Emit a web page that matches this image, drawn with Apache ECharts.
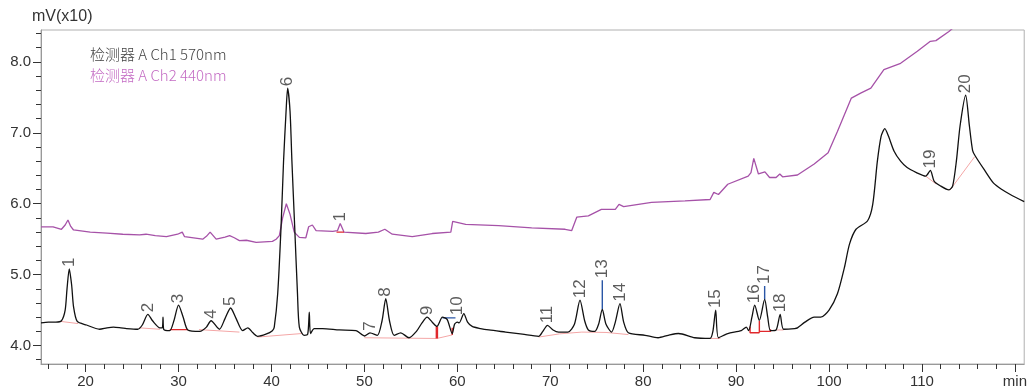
<!DOCTYPE html>
<html><head><meta charset="utf-8">
<script src="https://cdn.jsdelivr.net/npm/echarts@6/dist/echarts.min.js"></script>
<style>html,body{margin:0;padding:0;background:#fff}#c{width:1030px;height:392px}</style>
</head><body><div id="c"></div>
<script>
// ---- data (time in min, signal in mV x10) ----
const ch1Name = '检测器 A Ch1 570nm';
const ch2Name = '检测器 A Ch2 440nm';
const ch1 = [
[15.2,4.32],[16.0,4.33],[16.8,4.33],[17.4,4.35],[17.8,4.5],[18.0,4.8],[18.24,5.08],[18.5,4.85],[18.7,4.55],[19.1,4.34],
[20.1,4.29],[21.5,4.23],[22.3,4.25],[23.0,4.26],[23.8,4.25],[24.4,4.24],[25.6,4.23],[26.1,4.29],[26.7,4.44],[27.2,4.35],
[28.0,4.25],[28.25,4.25],[28.33,4.40],[28.4,4.23],[29.05,4.21],[29.5,4.35],[30.0,4.57],[30.5,4.40],[31.0,4.22],[32.3,4.20],
[33.0,4.26],[33.5,4.35],[34.4,4.23],[35.0,4.38],[35.6,4.53],[36.2,4.38],[36.9,4.21],[37.45,4.25],[38.0,4.18],[38.5,4.13],
[39.4,4.16],[40.1,4.21],[40.3,4.26],[40.67,4.73],[41.03,5.67],[41.3,6.6],[41.57,7.3],[41.74,7.63],[42.0,7.3],[42.2,6.6],
[42.5,5.67],[42.8,4.73],[43.0,4.26],[43.5,4.145],[43.9,4.16],[44.07,4.47],[44.2,4.17],[44.6,4.24],[45.5,4.24],[47.3,4.22],
[49.1,4.21],[50.0,4.135],[50.6,4.18],[51.4,4.145],[51.9,4.35],[52.3,4.66],[52.7,4.35],[53.2,4.145],[53.9,4.18],[54.8,4.11],
[55.6,4.20],[56.2,4.32],[56.75,4.40],[57.3,4.33],[57.8,4.27],[58.4,4.40],[58.9,4.37],[59.45,4.17],[59.7,4.30],[60.0,4.33],
[60.2,4.32],[60.7,4.45],[61.1,4.33],[61.6,4.27],[62.5,4.24],[63.4,4.22],[65.2,4.19],[67.0,4.16],[68.75,4.13],[69.2,4.20],
[69.7,4.285],[70.3,4.22],[70.9,4.19],[71.9,4.19],[72.6,4.30],[73.2,4.64],[73.7,4.35],[74.1,4.22],[74.8,4.20],[75.2,4.30],
[75.6,4.51],[76.0,4.30],[76.6,4.19],[77.0,4.33],[77.5,4.59],[77.9,4.33],[78.4,4.18],[80.2,4.145],[81.6,4.11],[82.7,4.145],
[83.8,4.17],[85.55,4.11],[87.2,4.10],[87.5,4.2],[87.8,4.50],[88.1,4.11],[89.1,4.17],[90.55,4.21],[91.1,4.26],[91.35,4.21],
[91.7,4.40],[92.0,4.57],[92.5,4.355],[93.07,4.65],[93.4,4.40],[93.7,4.21],[94.3,4.22],[94.74,4.44],[95.1,4.23],[96.3,4.24],
[96.6,4.25],[97.4,4.33],[98.4,4.40],[99.1,4.40],[100.0,4.50],[100.9,4.73],[101.65,5.10],[102.2,5.43],[102.9,5.64],[104.15,5.76],
[104.7,5.99],[105.2,6.60],[105.6,6.95],[106.0,7.06],[106.4,6.95],[107.0,6.74],[107.7,6.60],[108.4,6.51],[109.4,6.44],[110.4,6.39],
[110.9,6.47],[111.3,6.32],[112.0,6.25],[112.9,6.195],[113.3,6.25],[113.7,6.60],[114.1,7.10],[114.7,7.53],[115.1,7.10],[115.45,6.75],
[115.75,6.67],[116.7,6.48],[117.7,6.29],[118.6,6.20],[119.5,6.13],[121.0,6.03]
];
const ch2 = [
[15.2,5.675],[16.5,5.675],[17.4,5.64],[17.8,5.70],[18.1,5.77],[18.4,5.68],[18.7,5.63],[20.5,5.60],[22.3,5.585],[24.0,5.57],
[25.8,5.56],[26.5,5.57],[27.5,5.55],[28.7,5.535],[29.9,5.57],[30.4,5.60],[30.65,5.535],[32.6,5.50],[33.0,5.54],[33.4,5.60],
[34.05,5.50],[35.0,5.53],[35.5,5.55],[36.0,5.52],[36.55,5.48],[37.3,5.485],[38.35,5.455],[40.1,5.47],[40.5,5.50],[40.85,5.55],
[41.2,5.80],[41.6,6.00],[42.0,5.85],[42.45,5.60],[43.0,5.525],[43.7,5.52],[44.0,5.675],[44.4,5.70],[44.8,5.62],[46.6,5.61],
[47.1,5.62],[47.4,5.72],[47.8,5.60],[50.15,5.58],[51.5,5.60],[52.2,5.64],[53.0,5.57],[55.15,5.535],[57.3,5.58],[59.3,5.60],
[59.5,5.75],[60.9,5.71],[64.45,5.69],[68.0,5.66],[71.6,5.64],[72.3,5.62],[72.85,5.81],[74.1,5.83],[75.5,5.92],[77.0,5.92],
[77.4,5.99],[77.9,5.96],[80.9,6.02],[84.5,6.04],[87.2,6.06],[87.6,6.16],[88.1,6.13],[89.1,6.275],[91.3,6.39],[91.6,6.44],
[91.9,6.64],[92.4,6.42],[93.1,6.45],[93.6,6.37],[94.3,6.37],[94.7,6.42],[95.0,6.38],[96.6,6.405],[98.4,6.56],[99.9,6.72],
[100.9,7.02],[102.4,7.49],[103.4,7.56],[104.5,7.63],[105.9,7.89],[107.7,7.98],[109.5,8.15],[110.9,8.29],[111.5,8.30],[112.9,8.43],
[114.0,8.55]
];
// peak labels: [time, label-anchor value]
const peakNames1 = ['1','2','3','4','5','6','7','8','9','10','11','12','13','14','15','16','17','18','19','20'];
const peakPos1 = [[18.24,5.08],[26.7,4.44],[30.0,4.57],[33.5,4.35],[35.6,4.53],[41.74,7.63],[50.6,4.18],[52.3,4.66],[56.75,4.40],[60.0,4.40],
[69.7,4.285],[73.2,4.64],[75.6,4.92],[77.5,4.59],[87.8,4.50],[92.0,4.57],[93.07,4.84],[94.74,4.44],[110.9,6.47],[114.7,7.53]];
const peakNames2 = ['1'];
const peakPos2 = [[47.4,5.72]];
// integration baselines
const pinkSegs = [
[[17.35,4.34],[19.2,4.31]],
[[25.75,4.25],[28.0,4.23]],
[[32.2,4.225],[36.55,4.19]],
[[38.5,4.12],[43.3,4.17]],
[[50.0,4.11],[57.8,4.10],[59.45,4.15]],
[[68.75,4.12],[71.0,4.165],[73.4,4.19],[76.0,4.185],[78.4,4.155]],
[[87.2,4.10],[88.3,4.10]],
[[94.4,4.22],[95.1,4.22]],
[[110.4,6.39],[111.5,6.28]],
[[113.0,6.19],[115.65,6.66]]
];
const redSegs = [
[[29.05,4.225],[31.0,4.225]],
[[59.45,4.25],[59.45,4.15]],
[[91.5,4.27],[91.5,4.18],[92.5,4.18]],
[[92.5,4.345],[92.5,4.18]],
[[92.5,4.20],[93.7,4.20],[93.7,4.23]],
[[47.0,5.60],[47.8,5.60]]
];
const redThickSegs = [
[[57.8,4.27],[57.8,4.10]]
];
const blueSegs = [
[[58.4,4.39],[59.8,4.39]],
[[75.6,4.51],[75.6,4.92]],
[[93.07,4.65],[93.07,4.84]]
];
const xMajor = [20,30,40,50,60,70,80,90,100,110,120];
const xMinor = [16,18,22,24,26,28,32,34,36,38,42,44,46,48,52,54,56,58,62,64,66,68,72,74,76,78,82,84,86,88,92,94,96,98,102,104,106,108,112,114,116,118];
const yMajor = [4,5,6,7,8];
const yMinor = [3.8,4.2,4.4,4.6,4.8,5.2,5.4,5.6,5.8,6.2,6.4,6.6,6.8,7.2,7.4,7.6,7.8,8.2,8.4];
const xUnit = 'min';
const yUnit = 'mV(x10)';

// ---- chart ----
const FONT = '"Liberation Sans", Arial, sans-serif';
const X0 = 15.2, X1 = 121, Y0 = 3.74, Y1 = 8.45;
const c1 = '#111111', c2 = '#a652a8';
function segSeries(segs, color, width) {
  return segs.map(s => ({
    type: 'line', data: s, symbol: 'none', silent: true, z: 3,
    lineStyle: { color: color, width: width }
  }));
}
function labelSeries(names, pos) {
  return {
    type: 'scatter', symbolSize: 0, silent: true, z: 5,
    data: pos.map((p, i) => ({ value: p, name: names[i] })),
    label: {
      show: true, position: 'top', distance: 2, rotate: 90,
      align: 'left', verticalAlign: 'middle',
      formatter: p => p.name, fontSize: 17, color: '#333', fontFamily: FONT
    }
  };
}
const chart = echarts.init(document.getElementById('c'), null, { renderer: 'canvas' });
chart.setOption({
  animation: false,
  grid: { left: 41, right: 3, top: 30, bottom: 28, show: true, borderColor: '#b0b0b0', borderWidth: 1 },
  xAxis: [
    { type: 'value', min: X0, max: X1, position: 'bottom',
      axisLine: { show: true, lineStyle: { color: '#999', width: 1 } },
      axisTick: { show: true, customValues: xMajor, length: 8, lineStyle: { color: '#333' } },
      axisLabel: { customValues: xMajor, margin: 10, fontSize: 15, color: '#333', fontFamily: FONT,
        formatter: v => (v === 120 ? xUnit : String(v)) },
      splitLine: { show: false } },
    { type: 'value', min: X0, max: X1, position: 'bottom',
      axisLine: { show: false },
      axisTick: { show: true, customValues: xMinor, length: 5, lineStyle: { color: '#333' } },
      axisLabel: { show: false }, splitLine: { show: false } }
  ],
  yAxis: [
    { type: 'value', min: Y0, max: Y1, position: 'left',
      axisLine: { show: true, lineStyle: { color: '#999', width: 1 } },
      axisTick: { show: true, customValues: yMajor, length: 8, lineStyle: { color: '#333' } },
      axisLabel: { customValues: yMajor, margin: 10, fontSize: 15, color: '#333', fontFamily: FONT,
        formatter: v => v.toFixed(1) },
      splitLine: { show: false } },
    { type: 'value', min: Y0, max: Y1, position: 'left',
      axisLine: { show: false },
      axisTick: { show: true, customValues: yMinor, length: 5, lineStyle: { color: '#333' } },
      axisLabel: { show: false }, splitLine: { show: false } }
  ],
  graphic: [
    { type: 'text', left: 32, top: 9, style: { text: yUnit, fontSize: 16, fill: '#333', fontFamily: FONT } },
    { type: 'text', left: 90, top: 47, style: { text: ch1Name, fontSize: 15, fill: '#444', fontFamily: '"Noto Sans CJK SC", sans-serif', fontWeight: 300 } },
    { type: 'text', left: 90, top: 68, style: { text: ch2Name, fontSize: 15, fill: '#c46cc4', fontFamily: '"Noto Sans CJK SC", sans-serif', fontWeight: 300 } }
  ],
  series: [
    { name: ch2Name, type: 'line', data: ch2, symbol: 'none', z: 2, clip: true,
      lineStyle: { color: c2, width: 1.3 } },
    ...segSeries(pinkSegs, '#f4a6a6', 1),
    ...segSeries(redSegs, '#e0282c', 1.4),
    ...segSeries(redThickSegs, '#e0282c', 2.5),
    ...segSeries(blueSegs, '#2a56a6', 1.4),
    { name: ch1Name, type: 'line', data: ch1, symbol: 'none', z: 4, clip: true, smooth: 0.25,
      lineStyle: { color: c1, width: 1.3 } },
    labelSeries(peakNames1, peakPos1),
    labelSeries(peakNames2, peakPos2)
  ]
});
</script></body></html>
